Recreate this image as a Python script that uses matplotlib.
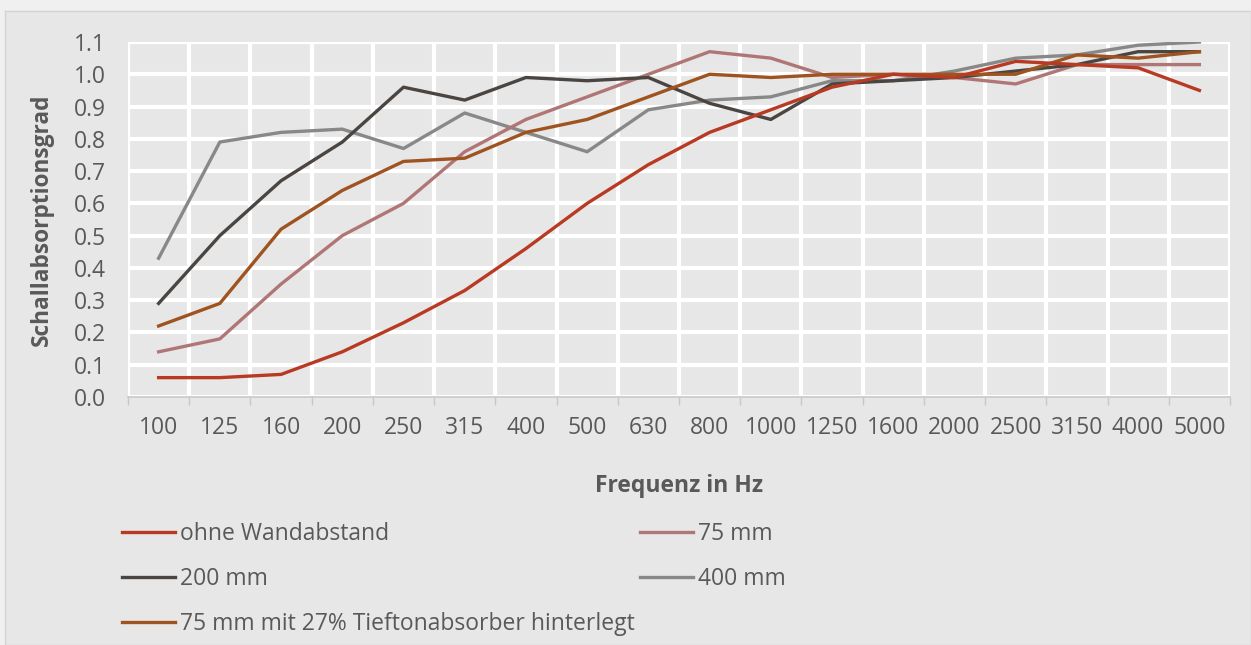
import numpy as np
import matplotlib
matplotlib.use('Agg')
import matplotlib.pyplot as plt
from matplotlib.ticker import FixedLocator

plt.rcParams['font.family'] = ['Open Sans', 'DejaVu Sans']

# data
freqs = ['100', '125', '160', '200', '250', '315', '400', '500', '630',
         '800', '1000', '1250', '1600', '2000', '2500', '3150', '4000', '5000']
ohne_wandabstand = [0.06, 0.06, 0.07, 0.14, 0.23, 0.33, 0.46, 0.60, 0.72,
                    0.82, 0.89, 0.96, 1.00, 0.99, 1.04, 1.03, 1.02, 0.95]
mm75 = [0.14, 0.18, 0.35, 0.50, 0.60, 0.76, 0.86, 0.93, 1.00,
        1.07, 1.05, 0.99, 1.00, 0.99, 0.97, 1.03, 1.03, 1.03]
mm200 = [0.29, 0.50, 0.67, 0.79, 0.96, 0.92, 0.99, 0.98, 0.99,
         0.91, 0.86, 0.97, 0.98, 0.99, 1.01, 1.03, 1.07, 1.07]
mm400 = [0.43, 0.79, 0.82, 0.83, 0.77, 0.88, 0.82, 0.76, 0.89,
         0.92, 0.93, 0.98, 0.98, 1.01, 1.05, 1.06, 1.09, 1.10]
mm75_tief = [0.22, 0.29, 0.52, 0.64, 0.73, 0.74, 0.82, 0.86, 0.93,
             1.00, 0.99, 1.00, 1.00, 1.00, 1.00, 1.06, 1.05, 1.07]

bg = '#e7e7e7'
txt = '#595959'

fig = plt.figure(figsize=(12.51, 6.45), dpi=100, facecolor='#f0f0f0')
# chart panel with thin border, like the exported office chart
panel = fig.add_axes([0.004, 0.0, 0.996, 0.983])
panel.set_facecolor(bg)
panel.set_xticks([])
panel.set_yticks([])
for s in panel.spines.values():
    s.set_color('#d4d4d4')
    s.set_linewidth(1)

ax = fig.add_axes([128 / 1251, 1 - 397 / 645, 1102 / 1251, 355 / 645])
ax.set_facecolor(bg)
x = np.arange(len(freqs))

ax.plot(x, ohne_wandabstand, color='#b83a22', lw=2.4, label='ohne Wandabstand', zorder=5)
ax.plot(x, mm75, color='#b07676', lw=2.4, label='75 mm', zorder=3)
ax.plot(x, mm200, color='#4b4541', lw=2.4, label='200 mm', zorder=4)
ax.plot(x, mm400, color='#888888', lw=2.4, label='400 mm', zorder=2)
ax.plot(x, mm75_tief, color='#9e5320', lw=2.4, label='75 mm mit 27% Tieftonabsorber hinterlegt', zorder=4)

ax.set_xlim(-0.5, len(freqs) - 0.5)
ax.set_ylim(0, 1.1)
ax.set_xticks(x)
ax.set_xticklabels(freqs)
ax.xaxis.set_minor_locator(FixedLocator(np.arange(-0.5, len(freqs), 1.0)))
ax.set_yticks(np.arange(0, 1.11, 0.1))
ax.set_yticklabels(['%.1f' % v for v in np.arange(0, 1.11, 0.1)])

ax.grid(True, which='minor', axis='x', color='white', lw=3, zorder=0)
ax.grid(True, which='major', axis='y', color='white', lw=3, zorder=0)
ax.set_axisbelow(True)

ax.tick_params(axis='x', which='major', length=0, pad=14, labelsize=16.5, labelcolor=txt)
ax.tick_params(axis='x', which='minor', length=6, color='#c8c8c8', width=1)
ax.tick_params(axis='y', which='major', length=0, pad=16, labelsize=16.5, labelcolor=txt)

for side in ['top', 'right', 'left']:
    ax.spines[side].set_visible(False)
ax.spines['bottom'].set_color('#c8c8c8')
ax.spines['bottom'].set_linewidth(1.2)

ax.set_xlabel('Frequenz in Hz', fontsize=16.5, fontweight='bold', color=txt, labelpad=24)
ax.set_ylabel('Schallabsorptionsgrad', fontsize=16.3, fontweight='bold', color=txt, labelpad=14)

h, l = ax.get_legend_handles_labels()
order = [0, 2, 4, 1, 3]
leg = fig.legend([h[i] for i in order], [l[i] for i in order], ncol=2,
                 loc='upper left', bbox_to_anchor=(122 / 1251, 1 - 522 / 645),
                 frameon=False, fontsize=16.5, handlelength=2.3, handletextpad=0.22,
                 labelspacing=0.92, columnspacing=0.26, borderpad=0, borderaxespad=0,
                 labelcolor=txt)

fig.savefig('out.png', dpi=100, facecolor=fig.get_facecolor())
